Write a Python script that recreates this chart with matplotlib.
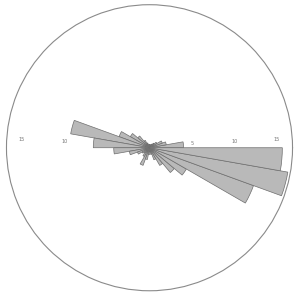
import numpy as np
import matplotlib
matplotlib.use("Agg")
import matplotlib.pyplot as plt

# Rose diagram: 10-degree bins, start angle (deg, counter-clockwise from east)
bin_starts = list(range(0, 360, 10))
counts = [4.0, 2.0, 1.6, 1.0, 0.7, 0.5, 0.4, 0.3, 0.4, 0.3,
          0.4, 0.6, 1.0, 1.8, 2.6, 3.8, 9.4, 6.6, 4.2, 2.4,
          1.5, 1.0, 0.8, 1.2, 2.2, 1.4, 0.8, 0.5, 0.8, 1.5,
          2.4, 3.8, 5.0, 13.0, 16.5, 15.6]
r_ticks = [5, 10, 15]
r_tick_labels = ["5", "10", "15"]
r_max = 16.8

fig = plt.figure(figsize=(2.94, 2.94), dpi=100)
ax = fig.add_axes([0.022, 0.011, 0.973, 0.973], projection="polar")

theta = np.deg2rad(np.array(bin_starts))
width = np.deg2rad(10)
ax.bar(theta, counts, width=width, align="edge", color="#b9b9b9",
       edgecolor="#6e6e6e", linewidth=0.5, zorder=2)

ax.set_ylim(0, r_max)
ax.grid(False)
ax.set_yticks([])
ax.set_xticks(np.deg2rad([0, 90, 180, 270]))
ax.set_xticklabels([])
ax.tick_params(axis="x", length=2, width=0.6, color="#888888", direction="in")
ax.spines["polar"].set_color("#8a8a8a")
ax.spines["polar"].set_linewidth(0.8)

for r, lab in zip(r_ticks, r_tick_labels):
    ax.text(np.deg2rad(2.5), r, lab, fontsize=3.5, color="#777777",
            ha="center", va="bottom", zorder=1)
    ax.text(np.deg2rad(177.5), r, lab, fontsize=3.5, color="#777777",
            ha="center", va="bottom", zorder=1)

fig.savefig("out.png", dpi=100)
